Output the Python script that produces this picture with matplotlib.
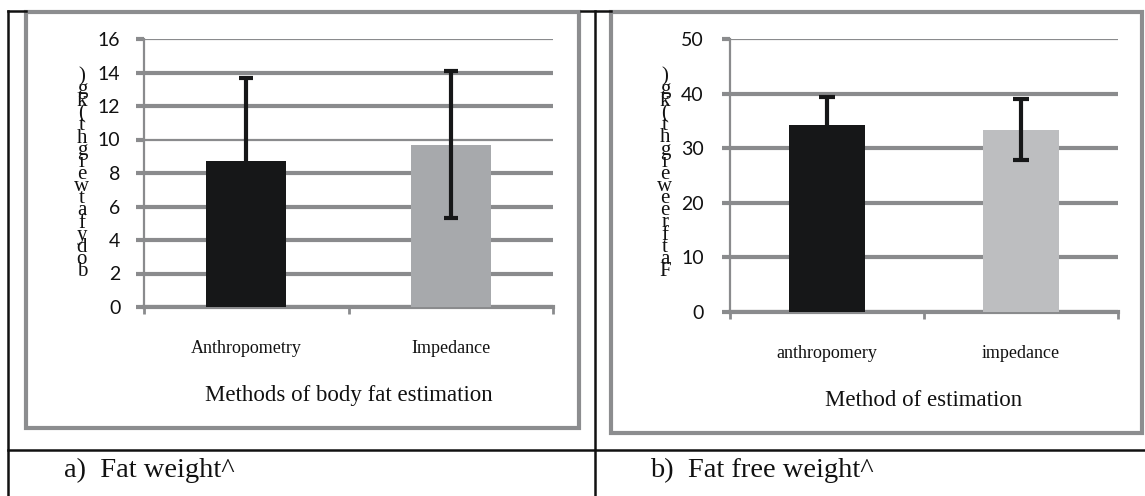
import matplotlib
matplotlib.use("Agg")
import matplotlib.pyplot as plt
from matplotlib.patches import Rectangle
from matplotlib.lines import Line2D

# ---- data ----
cats_a = ["Anthropometry", "Impedance"]
means_a = [8.7, 9.7]
errs_a = [5.0, 4.4]
yticks_a = [0, 2, 4, 6, 8, 10, 12, 14, 16]
ylabel_a = "body fat weight (kg)"
xlabel_a = "Methods of body fat estimation"
caption_a = "a)  Fat weight^"

cats_b = ["anthropomery", "impedance"]
means_b = [34.2, 33.4]
errs_b = [5.2, 5.6]
yticks_b = [0, 10, 20, 30, 40, 50]
ylabel_b = "Fat free weight (kg)"
xlabel_b = "Method of estimation"
caption_b = "b)  Fat free weight^"

W, H = 1145, 496
fig = plt.figure(figsize=(W / 100, H / 100), dpi=100)

GRID = "#8a8b8d"
DARK = "#161718"
SERIF = "Liberation Serif"
SANS = "Lato"


def fx(px):
    return px / W


def fy(py):
    return 1 - py / H


def stacked(s):
    chars = [c for c in reversed(s) if c != " "]
    return "\n".join(chars)


def panel(rect, cats, means, errs, yticks, colors, ylabel, xlabel, thin,
          ylab_xy, tick_pad, capsize):
    ax = fig.add_axes(rect)
    x = list(range(len(cats)))
    ax.bar(x, means, width=0.39, color=colors, zorder=3)
    ax.errorbar(x, means, yerr=errs, fmt="none", ecolor=DARK,
                elinewidth=3, capsize=capsize, capthick=3, zorder=4)
    ax.set_xlim(-0.5, len(cats) - 0.5)
    ax.set_ylim(yticks[0], yticks[-1])
    ax.set_yticks(yticks)
    ax.set_yticklabels([str(t) for t in yticks], fontsize=14, family=SANS,
                       color="#111111")
    ax.tick_params(axis="y", length=6, width=3, color=GRID, pad=tick_pad)
    ax.set_xticks(x)
    ax.set_xticklabels(cats, fontsize=13, family=SERIF, color="#111111")
    ax.tick_params(axis="x", which="major", length=0, pad=24)
    ax.set_xticks([i - 0.5 for i in range(len(cats) + 1)], minor=True)
    ax.tick_params(axis="x", which="minor", length=5, width=2, color=GRID)
    ax.grid(axis="y", color=GRID, linewidth=3, zorder=0)
    for t, gl in zip(yticks, ax.get_ygridlines()):
        if t in thin:
            gl.set_linewidth(1.6)
    for s in ["top", "right"]:
        ax.spines[s].set_visible(False)
    ax.spines["left"].set_color(GRID)
    ax.spines["left"].set_linewidth(1.6)
    ax.spines["bottom"].set_color(GRID)
    ax.spines["bottom"].set_linewidth(3)
    ax.set_axisbelow(True)
    ax.set_xlabel(xlabel, fontsize=16.5, family=SERIF, labelpad=20,
                  color="#111111")
    ax.set_ylabel(stacked(ylabel), rotation=0, fontsize=15, family=SERIF,
                  linespacing=0.51, ha="center", va="center", color="#111111")
    ax.yaxis.set_label_coords(*ylab_xy)
    return ax


panel([fx(144), fy(307), fx(553 - 144), (307 - 39) / H], cats_a, means_a,
      errs_a, yticks_a, [DARK, "#a7a9ac"], ylabel_a, xlabel_a,
      thin=[16, 10], ylab_xy=(-0.152, 0.495), tick_pad=11, capsize=5)

panel([fx(730), fy(312), fx(1118 - 730), (312 - 39) / H], cats_b, means_b,
      errs_b, yticks_b, [DARK, "#bdbec0"], ylabel_b, xlabel_b,
      thin=[50], ylab_xy=(-0.168, 0.505), tick_pad=13, capsize=6)

# gray frames
for (x0, y0, x1, y1) in [(26, 12, 579, 428), (611, 12, 1142, 433)]:
    fig.patches.append(Rectangle((fx(x0), fy(y1)), fx(x1 - x0), (y1 - y0) / H,
                                 transform=fig.transFigure, fill=False,
                                 edgecolor="#8c8d8f", linewidth=3))

# black table lines
black_lines = [
    ((8, 8), (11, 496)),
    ((595, 595), (11, 496)),
    ((8, 1145), (450, 450)),
    ((8, 26), (11, 11)),
    ((581, 611), (11, 11)),
]
for xs, ys in black_lines:
    fig.add_artist(Line2D([fx(v) for v in xs], [fy(v) for v in ys],
                          transform=fig.transFigure, color="#111111",
                          linewidth=1.8))

fig.text(fx(64), fy(470), caption_a, fontsize=20.5, family=SERIF,
         va="center", ha="left", color="#111111")
fig.text(fx(650), fy(470), caption_b, fontsize=20.5, family=SERIF,
         va="center", ha="left", color="#111111")

fig.savefig("out.png", dpi=100)
